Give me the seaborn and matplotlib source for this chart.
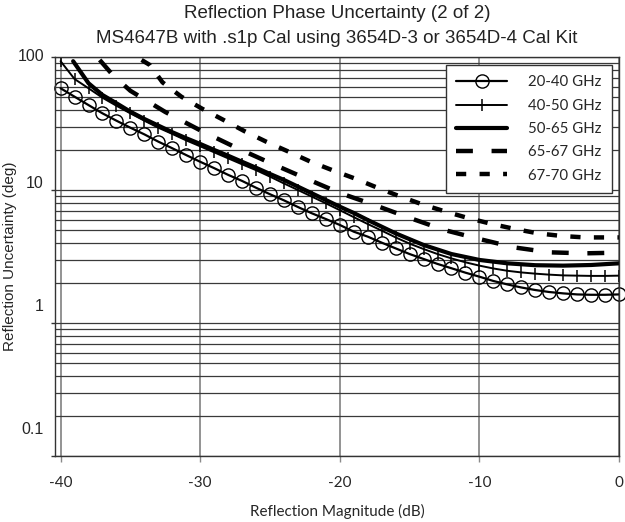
import numpy as np
import pandas as pd
import matplotlib
matplotlib.use("Agg")
import matplotlib.pyplot as plt
import matplotlib.transforms as mtransforms
from matplotlib.ticker import FixedLocator, NullFormatter
import seaborn as sns

# Reflection magnitude (dB) and phase uncertainty (deg)
mag_1db = list(range(-40, 1))

unc_20_40 = [58.2, 50.3, 43.5, 37.7, 33.2, 29.4, 26.2, 23.1, 20.6, 18.3,
             16.3, 14.6, 13.0, 11.7, 10.4, 9.29, 8.36, 7.45, 6.68, 6.05,
             5.46, 4.86, 4.46, 4.02, 3.64, 3.30, 3.03, 2.78, 2.58, 2.39,
             2.23, 2.07, 1.95, 1.85, 1.77, 1.71, 1.67, 1.64, 1.63, 1.63, 1.64]

unc_40_50 = [93.0, 68.3, 58.2, 49.4, 43.0, 37.7, 33.2, 29.4, 26.4, 23.6,
             21.3, 19.2, 17.3, 15.6, 14.1, 12.6, 11.2, 10.0, 8.91, 7.94,
             7.05, 6.25, 5.55, 4.95, 4.40, 3.95, 3.60, 3.30, 3.06, 2.86,
             2.70, 2.57, 2.47, 2.40, 2.35, 2.31, 2.28, 2.27, 2.26, 2.26, 2.27]

mag_50_65 = [-39.1, -38, -37, -36, -35, -34, -33, -32, -31, -30, -29, -28, -27,
             -26, -25, -24, -23, -22, -21, -20, -19, -18, -16, -14, -12, -10,
             -8, -6, -4, -2, 0]
unc_50_65 = [93.0, 63.5, 51.8, 44.9, 38.8, 34.2, 30.5, 27.2, 24.5, 22.2, 20.0,
             18.1, 16.3, 14.7, 13.2, 11.9, 10.6, 9.44, 8.41, 7.49, 6.72, 5.95,
             4.72, 3.86, 3.30, 2.98, 2.81, 2.72, 2.70, 2.73, 2.81]

mag_65_67 = [-37.2, -36.25, -35, -32.5, -30, -27.5, -25, -22.5, -20, -17.5,
             -15, -12.5, -10, -7.5, -5, -2.5, 0]
unc_65_67 = [95.0, 73.0, 55.7, 38.6, 28.1, 21.0, 16.0, 12.3, 9.5, 7.7,
             6.17, 5.0, 4.28, 3.70, 3.40, 3.34, 3.38]

mag_67_70 = [-34.2, -33.6, -32.7, -31.35, -29.87, -28.37, -26.86, -25.28,
             -23.66, -22.08, -20.5, -18.92, -17.3, -15.7, -14.03, -12.4,
             -10.8, -9.1, -7.45, -5.8, -4.1, -2.44, 0]
unc_67_70 = [95.0, 87.0, 64.5, 50.3, 40.9, 33.8, 27.8, 23.1, 19.4, 16.3,
             14.05, 12.2, 10.4, 8.96, 7.76, 6.87, 6.15, 5.55, 5.09, 4.72,
             4.51, 4.40, 4.40]

x_ticks = [-40, -30, -20, -10, 0]
y_ticks = [0.1, 1, 10, 100]
y_tick_labels = ["0.1", "1", "10", "100"]

sns.set_theme(style="white")
plt.rcParams["font.family"] = ["Liberation Sans", "DejaVu Sans"]
plt.rcParams["axes.unicode_minus"] = False

fig = plt.figure(figsize=(6.25, 5.22), dpi=100)
ax = fig.add_axes([55 / 625, 1 - 456 / 522, 564 / 625, 399 / 522])

ink = "black"
sns.lineplot(x=mag_1db, y=unc_20_40, ax=ax, color=ink, lw=1.6, marker="o",
             markersize=9.5, markerfacecolor="none", markeredgecolor=ink,
             markeredgewidth=1.0, label="20-40 GHz", clip_on=False)
sns.lineplot(x=mag_1db, y=unc_40_50, ax=ax, color=ink, lw=1.4, marker="|",
             markersize=8.5, markeredgecolor=ink, markeredgewidth=1.1,
             label="40-50 GHz")
sns.lineplot(x=mag_50_65, y=unc_50_65, ax=ax, color=ink, lw=3.0,
             label="50-65 GHz")
sns.lineplot(x=mag_65_67, y=unc_65_67, ax=ax, color=ink, lw=3.2,
             linestyle=(0, (3.8, 4.2)), label="65-67 GHz")
sns.lineplot(x=mag_67_70, y=unc_67_70, ax=ax, color=ink, lw=3.2,
             linestyle=(0, (2.3, 3.0)), label="67-70 GHz")

ax.set_yscale("log")
ax.set_xlim(-40.4, 0.0)
ax.set_ylim(0.1, 100)

ax.xaxis.set_major_locator(FixedLocator(x_ticks))
ax.yaxis.set_major_locator(FixedLocator(y_ticks))
ax.set_yticklabels(y_tick_labels)
minor = [m * 10.0 ** e for e in (-1, 0, 1) for m in range(2, 10)]
ax.yaxis.set_minor_locator(FixedLocator(minor))
ax.yaxis.set_minor_formatter(NullFormatter())

ax.grid(True, axis="x", which="major", color="#8a8a8a", lw=1.3)
ax.grid(True, axis="y", which="both", color="#3a3a3a", lw=0.9)
ax.set_axisbelow(True)
for s in ax.spines.values():
    s.set_color("#333333")
    s.set_linewidth(1.0)

ax.tick_params(axis="x", which="major", direction="out", length=4.5, width=1,
               color="#8a8a8a", pad=10, labelsize=11, bottom=True)
ax.tick_params(axis="y", which="major", direction="out", length=3, width=1,
               color="#333333", pad=5, labelsize=11.5, left=True)
ax.tick_params(axis="y", which="minor", length=0)
for lab in ax.get_xticklabels():
    lab.set_fontfamily(["Lato", "DejaVu Sans"])

ax.set_xlabel("Reflection Magnitude (dB)", fontsize=11,
              family=["Lato", "DejaVu Sans"], labelpad=10)
ax.set_ylabel("Reflection Uncertainty (deg)", fontsize=11)
ax.yaxis.set_label_coords(-0.068, 0.5)
ax.set_title("Reflection Phase Uncertainty (2 of 2)\n"
             "MS4647B with .s1p Cal using 3654D-3 or 3654D-4 Cal Kit",
             fontsize=13.5, linespacing=1.6, pad=10, color="#222222")

# tick labels in the reference sit a little above their gridlines
shift_px = {"100": 2, "10": 8, "1": 18, "0.1": 28}
for lab in ax.get_yticklabels():
    dy = shift_px.get(lab.get_text(), 0) * 0.72 / 72
    lab.set_transform(lab.get_transform() +
                      mtransforms.ScaledTranslation(0, dy, fig.dpi_scale_trans))

leg = ax.legend(loc="upper right", bbox_to_anchor=(0.988, 0.98),
                borderaxespad=0, frameon=True, fancybox=False, shadow=False,
                handlelength=3.4, handletextpad=1.4, labelspacing=0.62,
                borderpad=0.7, prop={"family": ["Lato", "DejaVu Sans"], "size": 10.8})
leg.get_frame().set_edgecolor("#333333")
leg.get_frame().set_linewidth(1.0)
leg.get_frame().set_alpha(1)

fig.savefig("out.png", dpi=100)
